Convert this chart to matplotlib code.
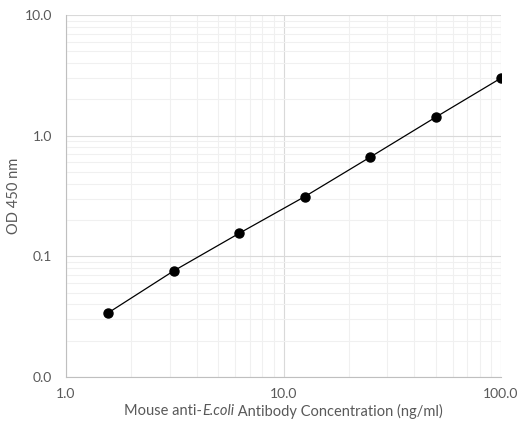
import matplotlib
matplotlib.use('Agg')
import matplotlib.pyplot as plt
from matplotlib.ticker import FixedLocator, LogLocator, NullFormatter

# data
conc = [1.5625, 3.125, 6.25, 12.5, 25, 50, 100]
od450 = [0.034, 0.0757, 0.155, 0.312, 0.663, 1.42, 3.0]

x_ticks = [1, 10, 100]
x_labels = ['1.0', '10.0', '100.0']
y_ticks = [0.01, 0.1, 1, 10]
y_labels = ['0.0', '0.1', '1.0', '10.0']

xlabel_parts = [('Mouse anti-', 'normal'), ('E.coli', 'italic'),
                (' Antibody Concentration (ng/ml)', 'normal')]
ylabel = 'OD 450 nm'

plt.rcParams['font.family'] = ['Lato', 'DejaVu Sans']

txt = '#595959'
W, H = 517, 426

fig = plt.figure(figsize=(W / 100, H / 100), dpi=100)
ax = fig.add_axes([66 / W, 1 - 377 / H, 435 / W, 362 / H])

ax.plot(conc, od450, color='black', lw=0.9, marker='o', ms=6.5, zorder=3)

ax.set_xscale('log')
ax.set_yscale('log')
ax.set_xlim(1, 100)
ax.set_ylim(0.01, 10)

ax.xaxis.set_major_locator(FixedLocator(x_ticks))
ax.set_xticklabels(x_labels)
ax.yaxis.set_major_locator(FixedLocator(y_ticks))
ax.set_yticklabels(y_labels)
ax.xaxis.set_minor_locator(LogLocator(base=10, subs=range(2, 10)))
ax.yaxis.set_minor_locator(LogLocator(base=10, subs=range(2, 10)))
ax.xaxis.set_minor_formatter(NullFormatter())
ax.yaxis.set_minor_formatter(NullFormatter())

ax.grid(which='major', color='#d9d9d9', lw=0.8)
ax.grid(which='minor', color='#f0f0f0', lw=0.8)
ax.set_axisbelow(True)

for s in ['top', 'right']:
    ax.spines[s].set_visible(False)
for s in ['left', 'bottom']:
    ax.spines[s].set_color('#bfbfbf')
    ax.spines[s].set_linewidth(0.8)

ax.tick_params(which='both', length=0, colors=txt, labelsize=10)
ax.tick_params(axis='x', pad=8)
ax.tick_params(axis='y', pad=10)

# y label
fig.text(14 / W, 1 - 196 / H, ylabel, rotation=90, ha='center', va='center',
         color=txt, fontsize=10.5)

# x label with italic E.coli, pieced together and centred
fig.canvas.draw()
r = fig.canvas.get_renderer()
pieces = []
for s, style in xlabel_parts:
    t = fig.text(0, 1 - 411 / H, s, style=style, color=txt, fontsize=10.5,
                 ha='left', va='center')
    pieces.append(t)
widths = [t.get_window_extent(r).width for t in pieces]
x0 = (66 + 501) / 2 - sum(widths) / 2
for t, w in zip(pieces, widths):
    t.set_x(x0 / W)
    x0 += w

fig.savefig('out.png', dpi=100)
